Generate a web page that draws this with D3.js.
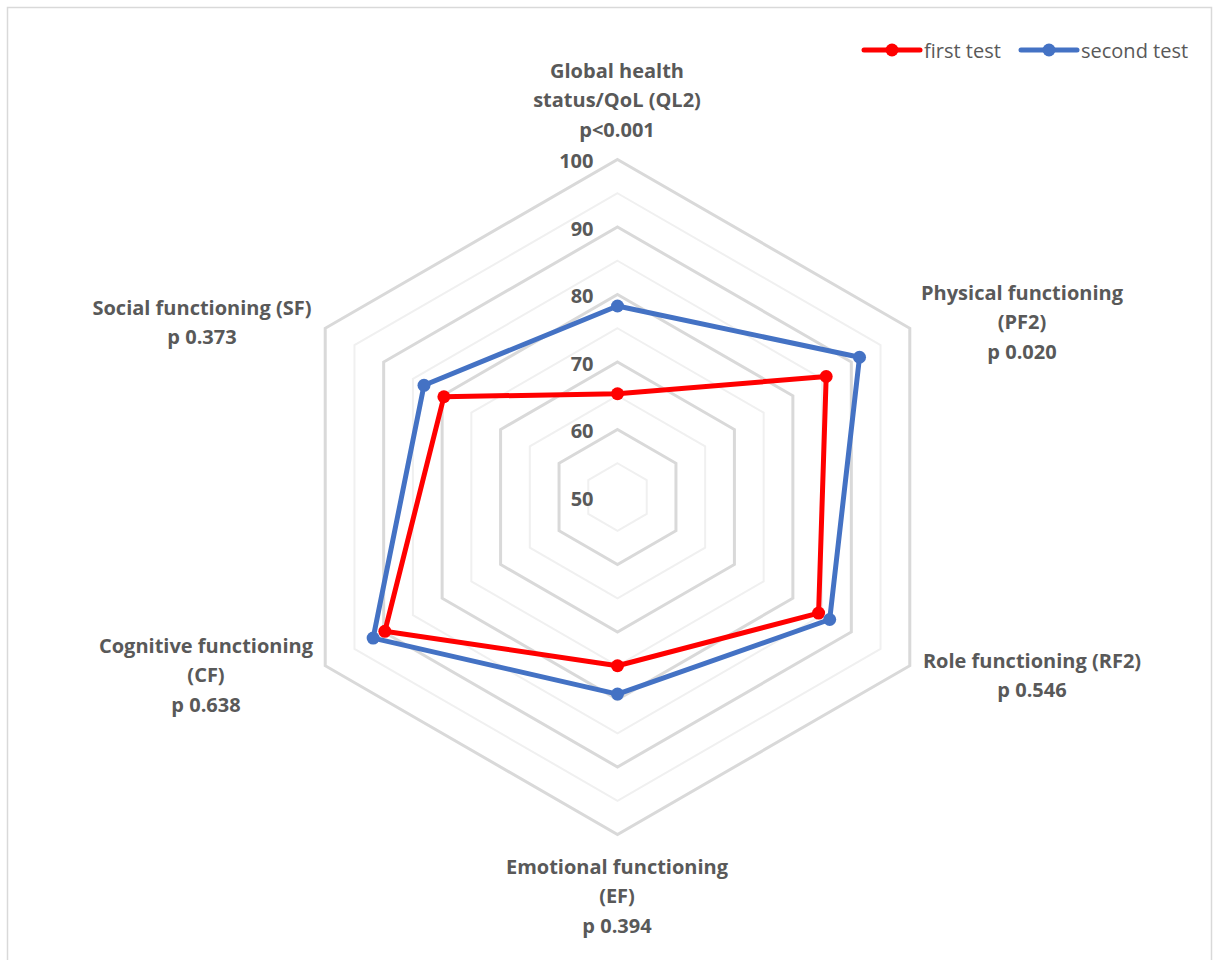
<!DOCTYPE html>
<html>
<head>
<meta charset="utf-8">
<script src="https://cdn.jsdelivr.net/npm/d3@7"></script>
<style>
  html, body { margin: 0; padding: 0; background: #fff; }
  svg { display: block; }
  text { font-family: "Open Sans", Lato, sans-serif; fill: #595959; }
</style>
</head>
<body>
<svg id="chart" width="1214" height="960"></svg>
<script>
// Axes of the radar (clockwise from top), each label split into lines
const categories = [
  ["Global health", "status/QoL (QL2)", "p<0.001"],
  ["Physical functioning", "(PF2)", "p 0.020"],
  ["Role functioning (RF2)", "p 0.546"],
  ["Emotional functioning", "(EF)", "p 0.394"],
  ["Cognitive functioning", "(CF)", "p 0.638"],
  ["Social functioning (SF)", "p 0.373"]
];
const firstTest  = [65.3, 85.7, 84.4, 75.0, 89.8, 79.7];
const secondTest = [78.3, 91.4, 86.3, 79.2, 91.8, 83.1];
const seriesNames = ["first test", "second test"];
const tickValues = [50, 60, 70, 80, 90, 100];
const gridLevels = [55, 60, 65, 70, 75, 80, 85, 90, 95, 100];

const svg = d3.select("#chart");
const cx = 617.5, cy = 497, R = 337.5;
const r = d3.scaleLinear().domain([50, 100]).range([0, R]);
const angle = d3.scaleLinear().domain([0, categories.length]).range([0, 2 * Math.PI]);
const colors = d3.scaleOrdinal().domain(seriesNames).range(["#ff0000", "#4472c4"]);

const pt = (i, v) => [cx + r(v) * Math.sin(angle(i)), cy - r(v) * Math.cos(angle(i))];

// chart border
svg.append("rect").attr("x", 7.5).attr("y", 7.5).attr("width", 1204).attr("height", 960)
  .attr("fill", "none").attr("stroke", "#d9d9d9").attr("stroke-width", 1.5);

// hexagonal gridlines: light at the 5s, darker at the 10s
const grid = svg.append("g");
gridLevels.forEach(lv => {
  const major = lv % 10 === 0;
  grid.append("polygon")
    .attr("points", categories.map((c, i) => pt(i, lv).join(",")).join(" "))
    .attr("fill", "none")
    .attr("stroke", major ? "#d9d9d9" : "#f0f0f0")
    .attr("stroke-width", major ? 3 : 2)
    .attr("stroke-linejoin", "miter");
});

// radial value labels
svg.append("g").selectAll("text").data(tickValues).join("text")
  .attr("x", cx - 24)
  .attr("y", d => cy - r(d) + 1)
  .attr("text-anchor", "end")
  .attr("dominant-baseline", "central")
  .attr("font-weight", "bold")
  .attr("font-size", 20)
  .text(d => d);

// category labels
const labelPos = [
  [617, 70], [1022, 292], [1032, 660], [617, 866], [206, 645], [202, 307]
];
const lh = 29.5;
categories.forEach((lines, i) => {
  const t = svg.append("text")
    .attr("text-anchor", "middle")
    .attr("font-weight", "bold")
    .attr("font-size", 20);
  lines.forEach((ln, k) => {
    t.append("tspan")
      .attr("x", labelPos[i][0])
      .attr("y", labelPos[i][1] + k * lh)
      .attr("dominant-baseline", "central")
      .text(ln);
  });
});

// series
const line = d3.line().curve(d3.curveLinearClosed);
[firstTest, secondTest].forEach((vals, s) => {
  const col = colors(seriesNames[s]);
  const pts = vals.map((v, i) => pt(i, v));
  const g = svg.append("g");
  g.append("path").attr("d", line(pts))
    .attr("fill", "none").attr("stroke", col).attr("stroke-width", 5)
    .attr("stroke-linejoin", "round");
  g.selectAll("circle").data(pts).join("circle")
    .attr("cx", d => d[0]).attr("cy", d => d[1]).attr("r", 6.5)
    .attr("fill", col);
});

// legend
const legendX = [864, 1021];
seriesNames.forEach((name, s) => {
  const col = colors(name);
  const g = svg.append("g").attr("transform", `translate(${legendX[s]},50)`);
  g.append("line").attr("x1", 0).attr("x2", 56).attr("y1", 0).attr("y2", 0)
    .attr("stroke", col).attr("stroke-width", 5).attr("stroke-linecap", "round");
  g.append("circle").attr("cx", 28).attr("cy", 0).attr("r", 6.5).attr("fill", col);
  g.append("text").attr("x", 60).attr("y", 0).attr("dominant-baseline", "central")
    .attr("font-size", 20).text(name);
});
</script>
</body>
</html>
